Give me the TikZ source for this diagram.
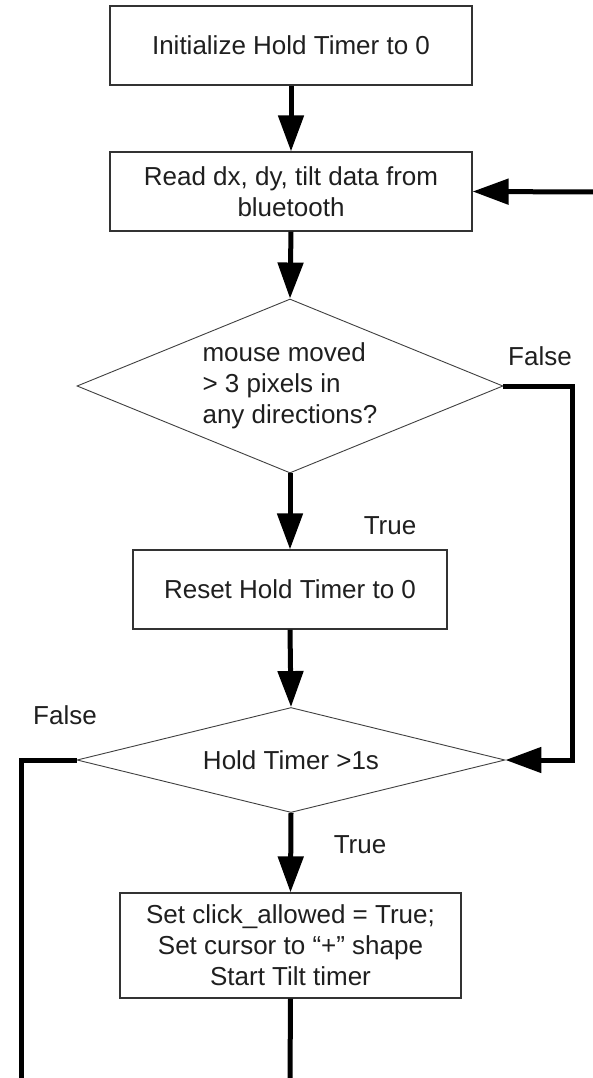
\documentclass[tikz,border=0pt]{standalone}
\usepackage{fontspec}
\setmainfont{Liberation Sans}
\usetikzlibrary{arrows.meta,shapes.geometric}
\begin{document}
\begin{tikzpicture}[x=1pt,y=-1pt,
  every node/.style={font=\fontsize{26}{31}\selectfont, text=black!88},
  box/.style={draw=black!80, line width=1.2pt, inner sep=0pt, align=center, minimum height=79pt},
  dia/.style={diamond, draw=black!75, line width=0.9pt, inner sep=0pt},
  plain/.style={line width=5pt, draw=black},
  flow/.style={plain, -{Triangle[length=36pt,width=25pt]}},
]
\fill[white] (0,0) rectangle (593,1078);
\useasboundingbox (0,0) rectangle (593,1078);

% process steps and decisions
\node[box, minimum width=362pt] (b1) at (291,45.5) {Initialize Hold Timer to 0};
\node[box, minimum width=362pt] (b2) at (291,191.5) {Read dx, dy, tilt data from\\bluetooth};
\node[dia, aspect=2.45, minimum width=426pt, minimum height=174pt, align=left] (d1) at (290,386)
  {mouse moved\\> 3 pixels in\\any directions?};
\node[box, minimum width=314pt] (b3) at (290,589.5) {Reset Hold Timer to 0};
\node[dia, aspect=4.07, minimum width=428pt, minimum height=105pt] (d2) at (291,760) {Hold Timer >1s};
\node[box, minimum width=341pt, minimum height=105pt] (b4) at (290.5,945.5)
  {Set click\_allowed = True;\\Set cursor to “+” shape\\Start Tilt timer};

% branch labels
\node (lf1) at (540,356) {False};
\node (lt1) at (390,526) {True};
\node (lf2) at (65,715) {False};
\node (lt2) at (360,845) {True};

% free ends and bends of the connectors
\coordinate (inR) at (593,192);
\coordinate (fr1) at (572,386);
\coordinate (fr2) at (572,760);
\coordinate (fl1) at (21,760);
\coordinate (fl2) at (21,1078);
\coordinate (outB) at (290,1078);

% connectors
\draw[flow] (b1.south) -- (b2.north);
\draw[flow] (b2.south) -- (d1.north);
\draw[flow] (d1.south) -- (b3.north);
\draw[flow] (b3.south) -- (d2.north);
\draw[flow] (d2.south) -- (b4.north);
\draw[plain] (b4.south) -- (outB);
\draw[flow] (inR) -- (b2.east);
\draw[flow] (d1.east) -- (fr1) -- (fr2) -- (d2.east);
\draw[plain] (d2.west) -- (fl1) -- (fl2);
\end{tikzpicture}
\end{document}
